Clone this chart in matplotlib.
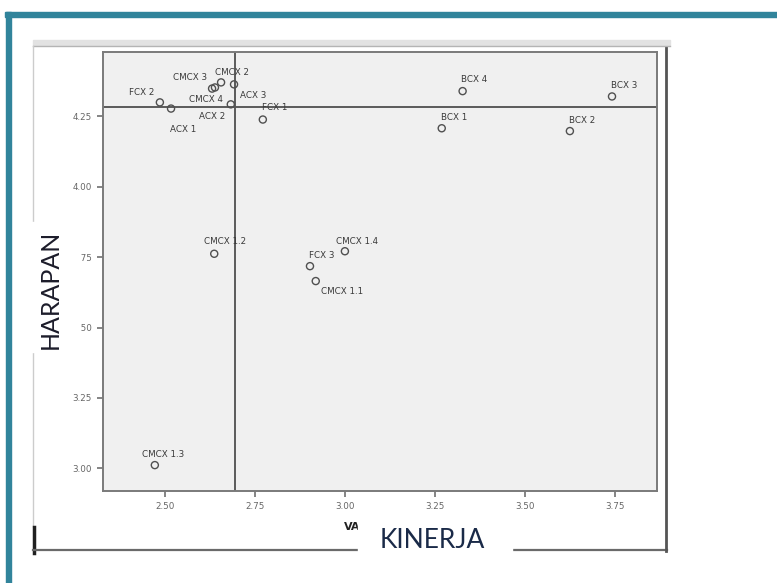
import matplotlib
matplotlib.use('Agg')
import matplotlib.pyplot as plt
from matplotlib.patches import Rectangle

# data (KINERJA vs HARAPAN)
labels = ['FCX 2', 'ACX 1', 'CMCX 3', 'CMCX 4', 'ACX 2', 'CMCX 2', 'ACX 3', 'FCX 1',
          'BCX 4', 'BCX 3', 'BCX 1', 'BCX 2',
          'CMCX 1.2', 'CMCX 1.4', 'FCX 3', 'CMCX 1.1', 'CMCX 1.3']
kinerja = [2.486, 2.517, 2.656, 2.631, 2.639, 2.692, 2.683, 2.772,
           3.327, 3.742, 3.269, 3.625,
           2.637, 3.000, 2.903, 2.919, 2.472]
harapan = [4.300, 4.278, 4.371, 4.349, 4.353, 4.364, 4.293, 4.239,
           4.340, 4.321, 4.208, 4.198,
           3.762, 3.771, 3.718, 3.665, 3.011]
mean_x = 2.694
mean_y = 4.284

x_ticks = [2.50, 2.75, 3.00, 3.25, 3.50, 3.75]
x_ticklabels = ['2.50', '2.75', '3.00', '3.25', '3.50', '3.75']
y_ticks = [3.00, 3.25, 3.50, 3.75, 4.00, 4.25]
y_ticklabels = ['3.00', '3.25', '.50', '.75', '4.00', '4.25']

# label offsets in pixels (dx, dy) from each point
offsets = [(-18, 10), (12, -21), (-31, 5), (-6, -11), (-3, -29), (-2, 12), (22, 9), (12, 12),
           (12, 12), (12, 11), (12, 11), (12, 11),
           (11, 12), (12, 10), (12, 11), (26, -10), (8, 11)]

W, H = 777, 583
fig = plt.figure(figsize=(W / 100, H / 100), dpi=100)
fig.patch.set_facecolor('white')

# main scatter axes
ax = fig.add_axes([103 / W, 1 - 491 / H, (657 - 103) / W, (491 - 52) / H])
ax.set_facecolor('#f0f0f0')
ax.set_xlim(2.328, 3.867)
ax.set_ylim(2.919, 4.479)
for s in ax.spines.values():
    s.set_color('#7a7a7a')
    s.set_linewidth(1.4)

ax.axvline(mean_x, color='#5a5a5a', lw=1.4, zorder=1)
ax.axhline(mean_y, color='#5a5a5a', lw=1.4, zorder=1)
ax.scatter(kinerja, harapan, s=26, facecolors='none', edgecolors='#505050', linewidths=1.0, zorder=3)

for name, x, y, (dx, dy) in zip(labels, kinerja, harapan, offsets):
    ax.annotate(name, (x, y), xytext=(dx, dy), textcoords='offset pixels',
                ha='center', va='center', fontsize=6.3, color='#3a3a3a', zorder=4)

ax.set_xticks(x_ticks)
ax.set_xticklabels(x_ticklabels)
ax.set_yticks(y_ticks)
ax.set_yticklabels(y_ticklabels)
ax.tick_params(direction='out', length=4, width=1.2, color='#707070',
               labelsize=6.3, labelcolor='#666666', pad=4)

# overlay in pixel coordinates for the screenshot frame and pasted labels
ov = fig.add_axes([0, 0, 1, 1], zorder=10)
ov.set_xlim(0, W)
ov.set_ylim(H, 0)
ov.axis('off')
ov.patch.set_alpha(0)

teal = '#31849b'
ov.add_patch(Rectangle((5, 12), W, 5, color=teal, zorder=1))
ov.add_patch(Rectangle((6, 12), 5, H, color=teal, zorder=1))

# screenshot panel edges
ov.add_patch(Rectangle((33, 40), 637, 5, color='#e2e2e2', zorder=1))
ov.plot([33, 670], [45.5, 45.5], color='#b4b4b4', lw=1, zorder=2)
ov.plot([33, 33], [46, 527], color='#cccccc', lw=1, zorder=2)
ov.plot([34, 34], [527, 553], color='#202020', lw=2.5, zorder=2)
ov.plot([33, 667], [550, 550], color='#6a6a6a', lw=1.6, zorder=2)
ov.plot([666, 666], [48, 551], color='#555555', lw=2.0, zorder=2)

# partially covered axis title
ov.text(352, 527, 'VA', fontsize=8, fontweight='bold', color='#222222',
        ha='center', va='center', zorder=3)

# pasted axis labels on white boxes
ov.add_patch(Rectangle((18, 222), 62, 130, color='white', zorder=5))
ov.text(50, 289, 'HARAPAN', rotation=90, fontsize=18, family='Lato',
        color='#1c1c2a', ha='center', va='center', zorder=6)
ov.add_patch(Rectangle((358, 516), 154, 50, color='white', zorder=5))
ov.text(432, 541, 'KINERJA', fontsize=19, family='Lato',
        color='#1a2a48', ha='center', va='center', zorder=6)

fig.savefig('out.png', dpi=100)
